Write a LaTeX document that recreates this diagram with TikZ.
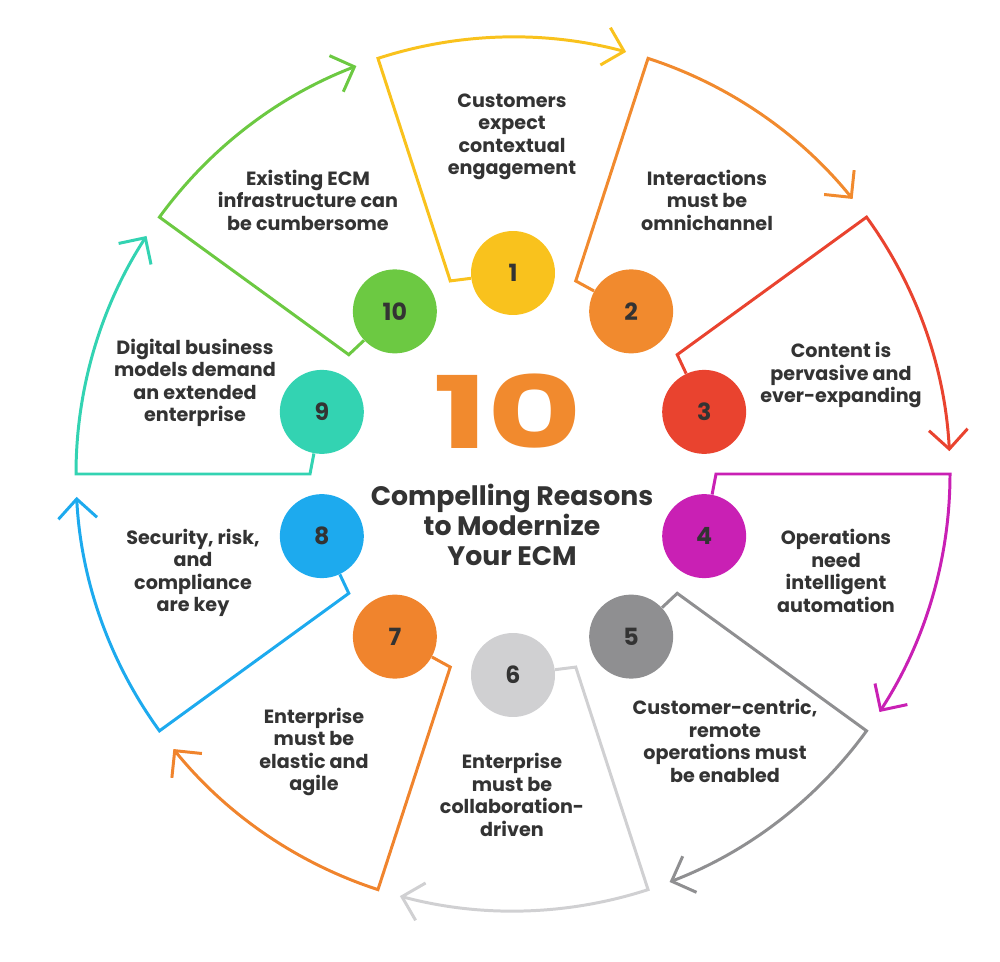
\documentclass[tikz,border=0pt]{standalone}
\usepackage{fontspec}
\setmainfont{Poppins}
\usetikzlibrary{arrows.meta, calc}
\definecolor{inkgray}{HTML}{333333}
\definecolor{segA}{HTML}{F9C21D}
\definecolor{segB}{HTML}{F18A2E}
\definecolor{segC}{HTML}{E9432F}
\definecolor{segD}{HTML}{C920B4}
\definecolor{segE}{HTML}{8F8F91}
\definecolor{segF}{HTML}{D0D0D2}
\definecolor{segG}{HTML}{F0842D}
\definecolor{segH}{HTML}{1DAAEE}
\definecolor{segI}{HTML}{33D3B2}
\definecolor{segJ}{HTML}{6CC942}

\begin{document}
\begin{tikzpicture}[x=0.02cm, y=0.02cm,
        numdot/.style={circle, minimum size=1.68cm, inner sep=0pt, text=inkgray,
                       font=\fontsize{13.5}{14}\selectfont\bfseries},
        reason/.style={align=center, text=inkgray, font=\fontsize{10.9}{12.8}\selectfont\bfseries},
        ring/.style={line width=1.7pt, line join=miter, -{Straight Barb[length=11pt, width=22pt]}}
    ]
        \useasboundingbox (0,0) rectangle (1000,961);
        \coordinate (C) at (513,487);
        % numbered dots and their arrows
        \foreach \k/\col in {1/segA, 2/segB, 3/segC, 4/segD, 5/segE, 6/segF, 7/segG, 8/segH, 9/segI, 10/segJ} {
            \pgfmathsetmacro{\th}{126-36*\k}
            \pgfmathsetmacro{\be}{144-36*\k}
            \node[numdot, fill=\col] (n\k) at ($(C)+(\th:201)$) {\k};
            \coordinate (in\k) at ($(C)+(\be:203)$);
            \coordinate (out\k) at ($(C)+(\be:437)$);
            \draw[ring, \col] (n\k) -- (in\k) -- (out\k) arc[start angle=\be, end angle=\be-33, radius=437];
        }
        % reasons
        \node[reason] (r1) at (512,824) {Customers\\expect\\contextual\\engagement};
        \node[reason] (r2) at (707,761) {Interactions\\must be\\omnichannel};
        \node[reason] (r3) at (841,586) {Content is\\pervasive and\\ever-expanding};
        \node[reason] (r4) at (836,390) {Operations\\need\\intelligent\\automation};
        \node[reason] (r5) at (725,220) {Customer-centric,\\remote\\operations must\\be enabled};
        \node[reason] (r6) at (512,166) {Enterprise\\must be\\collaboration-\\driven};
        \node[reason] (r7) at (314,209) {Enterprise\\must be\\elastic and\\agile};
        \node[reason] (r8) at (193,388) {Security, risk,\\and\\compliance\\are key};
        \node[reason] (r9) at (195,578) {Digital business\\models demand\\an extended\\enterprise};
        \node[reason] (r10) at (308,761) {Existing ECM\\infrastructure can\\be cumbersome};
        % centre title
        \node[text=segB, font=\fontsize{57}{57}\selectfont\bfseries] (big) at (508,550) {\scalebox{1.45}[1]{10}};
        \node[align=center, text=inkgray, font=\fontsize{15.2}{17.2}\selectfont\bfseries] (title) at (512,436)
            {Compelling Reasons\\to Modernize\\Your ECM};
    \end{tikzpicture}
\end{document}
